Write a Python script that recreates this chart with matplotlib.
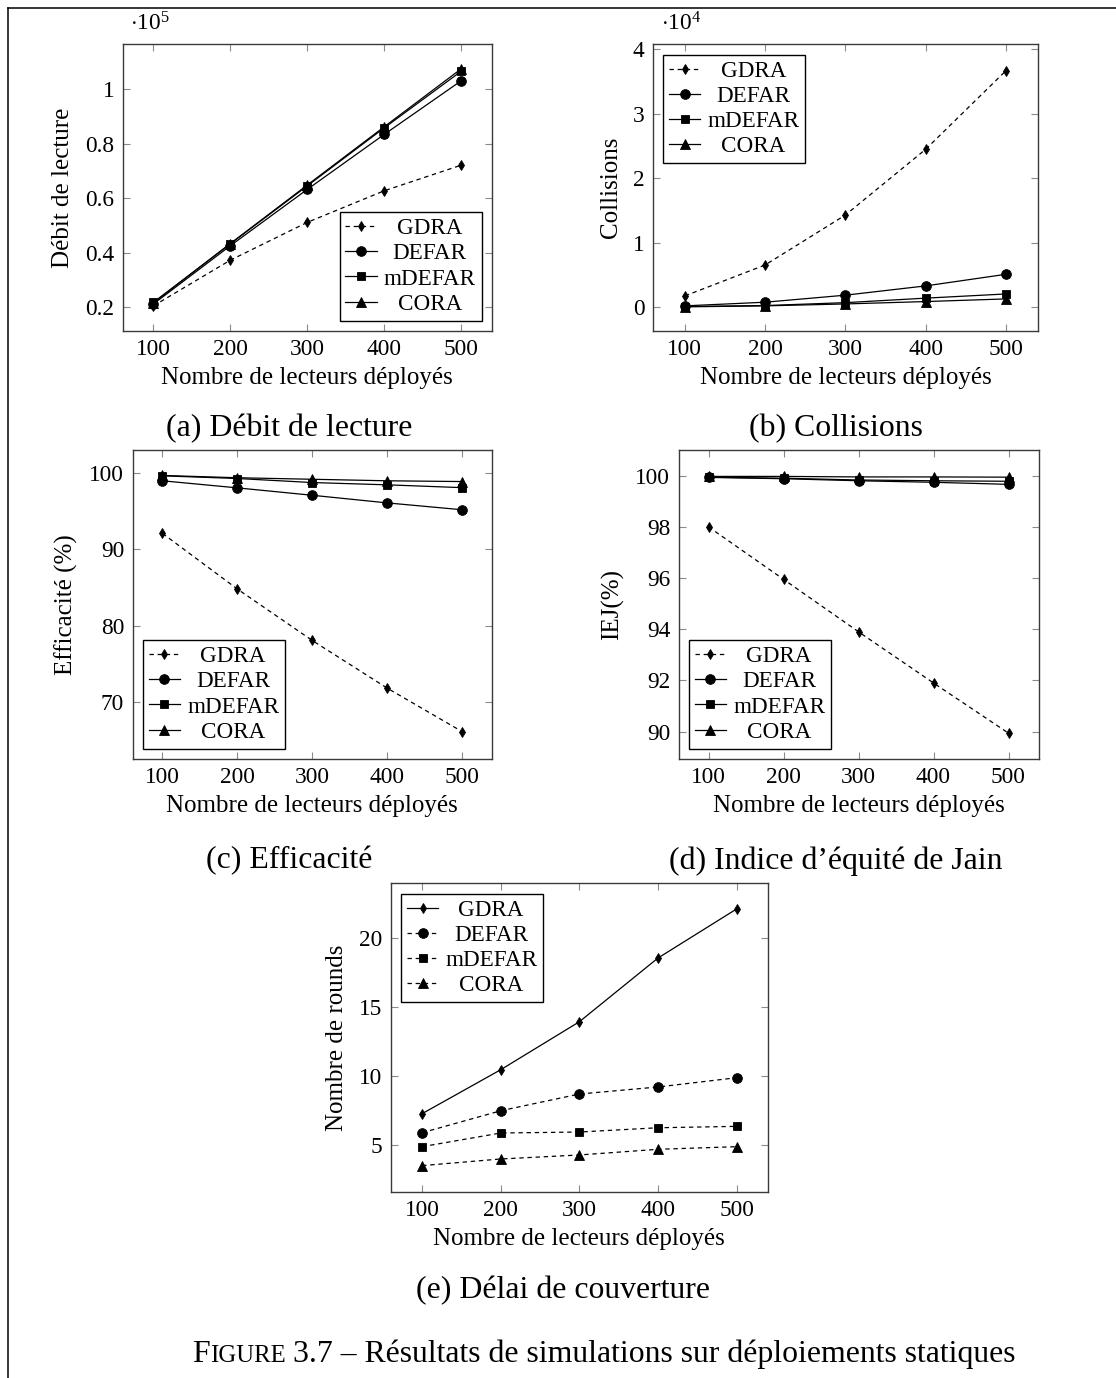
import matplotlib
matplotlib.use("Agg")
import matplotlib.pyplot as plt
from matplotlib.ticker import FuncFormatter
from matplotlib.lines import Line2D

plt.rcParams['font.family'] = ['Liberation Serif', 'DejaVu Serif']
plt.rcParams['mathtext.fontset'] = 'custom'
plt.rcParams['mathtext.rm'] = 'Liberation Serif'
plt.rcParams['mathtext.it'] = 'Liberation Serif:italic'

# ---------------- data ----------------
x = [100, 200, 300, 400, 500]
series_names = ["GDRA", "DEFAR", "mDEFAR", "CORA"]

a_gdra = [20400, 37200, 51100, 62700, 72100]
a_defar = [21100, 42500, 63200, 83400, 103100]
a_mdefar = [21700, 43200, 64500, 85800, 106600]
a_cora = [21500, 43300, 64800, 86200, 107500]

b_gdra = [1750, 6550, 14300, 24500, 36700]
b_defar = [200, 770, 1860, 3300, 5100]
b_mdefar = [100, 250, 700, 1400, 2050]
b_cora = [50, 200, 500, 870, 1280]

c_gdra = [92.1, 84.8, 78.05, 71.8, 66.1]
c_defar = [99.0, 98.07, 97.1, 96.1, 95.2]
c_mdefar = [99.65, 99.3, 98.77, 98.47, 98.1]
c_cora = [99.7, 99.4, 99.2, 99.0, 98.9]

d_gdra = [98.0, 95.95, 93.9, 91.9, 89.94]
d_defar = [99.93, 99.88, 99.8, 99.74, 99.66]
d_mdefar = [99.94, 99.9, 99.83, 99.8, 99.78]
d_cora = [99.97, 99.97, 99.95, 99.95, 99.94]

e_gdra = [7.29, 10.47, 13.94, 18.55, 22.1]
e_defar = [5.91, 7.5, 8.71, 9.22, 9.89]
e_mdefar = [4.9, 5.89, 5.96, 6.27, 6.37]
e_cora = [3.53, 4.01, 4.3, 4.71, 4.9]

x_ticks = [100, 200, 300, 400, 500]
xlabel = "Nombre de lecteurs déployés"

# ---------------- layout ----------------
W, H = 1116, 1378
DPI = 100
fig = plt.figure(figsize=(W / DPI, H / DPI), dpi=DPI)

def rect(l, r, t, b):
    return [l / W, 1 - b / H, (r - l) / W, (b - t) / H]

markers = ['d', 'o', 's', '^']
msizes = [5.5, 7, 6.2, 6.5]
TICK_FS = 16.8
LEG_FS = 16.7
LABEL_FS = 18
CAP_FS = 22.9
DASH = (0, (3.5, 3))

legends = []

def panel(r, data, ylim, yticks, ylabel, legloc, dashed_first=True, fmt=None, scale_text=None):
    ax = fig.add_axes(rect(*r))
    for i, (name, ys) in enumerate(zip(series_names, data)):
        if dashed_first:
            ls = DASH if i == 0 else '-'
        else:
            ls = '-' if i == 0 else DASH
        ax.plot(x, ys, linestyle=ls, color='black', lw=0.9,
                marker=markers[i], markersize=msizes[i], markeredgewidth=0.6,
                label=name)
    ax.set_xlim(60, 540)
    ax.set_ylim(*ylim)
    ax.set_xticks(x_ticks)
    ax.set_yticks(yticks)
    if fmt is not None:
        ax.yaxis.set_major_formatter(FuncFormatter(fmt))
    ax.tick_params(direction='in', top=True, right=True, length=5, width=0.8,
                   color='#8a8a8a', labelsize=TICK_FS, pad=6)
    for s in ax.spines.values():
        s.set_color('#3a3a3a')
        s.set_linewidth(1.0)
    ax.set_xlabel(xlabel, fontsize=LABEL_FS, labelpad=5)
    ax.set_ylabel(ylabel, fontsize=LABEL_FS, labelpad=8)
    leg = ax.legend(loc=legloc, fontsize=LEG_FS, frameon=True, fancybox=False,
                    edgecolor='black', framealpha=1, handlelength=1.35,
                    handletextpad=0.3, labelspacing=0.17, borderpad=0.25,
                    borderaxespad=0.45)
    leg.get_frame().set_linewidth(1.0)
    legends.append(leg)
    if scale_text:
        ax.text(0.02, 1.03, scale_text, transform=ax.transAxes, fontsize=TICK_FS,
                ha='left', va='bottom')
    return ax

panel((122.5, 492, 44.3, 331), [a_gdra, a_defar, a_mdefar, a_cora], (11200, 116500),
      [20000, 40000, 60000, 80000, 100000], "Débit de lecture", 'lower right',
      fmt=lambda v, p: f"{v / 1e5:g}", scale_text=r'$\cdot10^{5}$')
panel((652.8, 1038, 44.3, 331), [b_gdra, b_defar, b_mdefar, b_cora], (-3700, 40800),
      [0, 10000, 20000, 30000, 40000], "Collisions", 'upper left',
      fmt=lambda v, p: f"{v / 1e4:g}", scale_text=r'$\cdot10^{4}$')
panel((132.5, 492, 450.3, 759), [c_gdra, c_defar, c_mdefar, c_cora], (62.5, 103.0),
      [70, 80, 90, 100], "Efficacité (%)", 'lower left')
panel((678.5, 1038.5, 450.3, 759), [d_gdra, d_defar, d_mdefar, d_cora], (88.93, 100.99),
      [90, 92, 94, 96, 98, 100], "IEJ(%)", 'lower left')
panel((390.7, 768, 883.3, 1192), [e_gdra, e_defar, e_mdefar, e_cora], (1.62, 23.96),
      [5, 10, 15, 20], "Nombre de rounds", 'upper left', dashed_first=False)

# sub-captions
def ftext(px, py, s, **kw):
    return fig.text(px / W, 1 - py / H, s, **kw)

ftext(289, 429, "(a) Débit de lecture", fontsize=CAP_FS, ha='center', va='center')
ftext(836, 429, "(b) Collisions", fontsize=CAP_FS, ha='center', va='center')
ftext(289.5, 861, "(c) Efficacité", fontsize=CAP_FS, ha='center', va='center')
ftext(836, 861, "(d) Indice d’équité de Jain", fontsize=CAP_FS, ha='center', va='center')
ftext(562.7, 1291, "(e) Délai de couverture", fontsize=CAP_FS, ha='center', va='center')

# frame lines (left and top)
fig.add_artist(Line2D([8 / W, 8 / W], [0, 1 - 8 / H], color='black', lw=1.1,
                      transform=fig.transFigure))
fig.add_artist(Line2D([8 / W, 1], [1 - 8 / H, 1 - 8 / H], color='black', lw=1.1,
                      transform=fig.transFigure))

# figure caption with small caps "Figure"
cap_y = 1 - 1362 / H
CAPF = 24
t1 = fig.text(0, cap_y, "F", fontsize=CAPF, va='baseline')
t2 = fig.text(0, cap_y, "IGURE", fontsize=CAPF * 0.78, va='baseline')
t3 = fig.text(0, cap_y, " 3.7 – Résultats de simulations sur déploiements statiques",
              fontsize=CAPF, va='baseline')

fig.canvas.draw()
rend = fig.canvas.get_renderer()
ws = [t.get_window_extent(rend).width for t in (t1, t2, t3)]
scale = 826.0 / sum(ws)
t1.set_fontsize(CAPF * scale)
t2.set_fontsize(CAPF * 0.78 * scale)
t3.set_fontsize(CAPF * scale)
fig.canvas.draw()
ws = [t.get_window_extent(rend).width for t in (t1, t2, t3)]
x0 = 604 - sum(ws) / 2
for t, w in zip((t1, t2, t3), ws):
    t.set_x(x0 / W)
    x0 += w

# center legend texts
for leg in legends:
    texts = leg.get_texts()
    widths = [t.get_window_extent(rend).width for t in texts]
    mw = max(widths)
    for t, w in zip(texts, widths):
        t.set_x((mw - w) / 2)

fig.savefig("out.png", dpi=DPI)
